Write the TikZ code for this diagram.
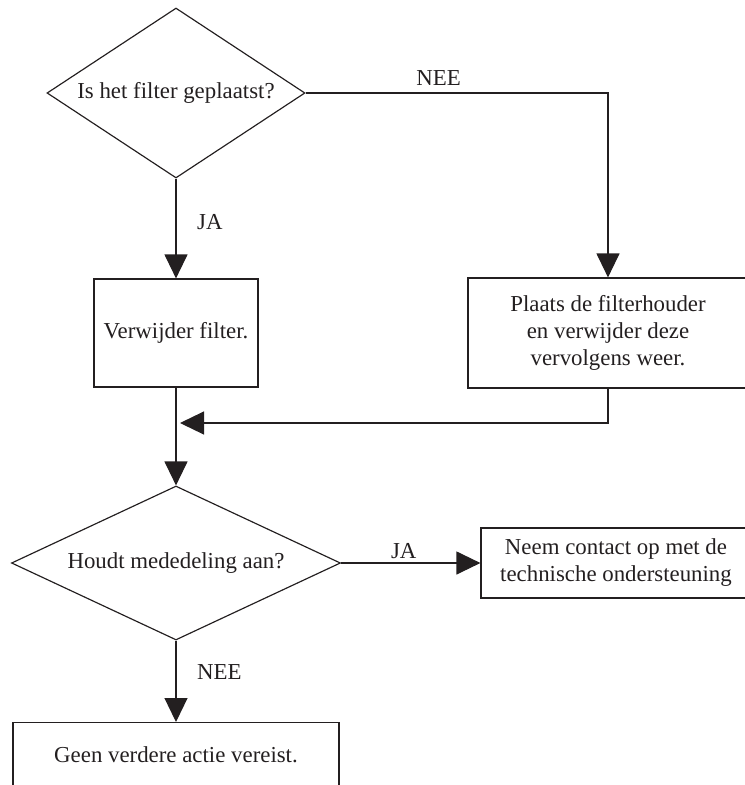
\documentclass[tikz,border=0pt]{standalone}
\usepackage{fontspec}
\setmainfont{Liberation Serif}
\usetikzlibrary{shapes.geometric,arrows.meta,positioning}
\definecolor{ink}{RGB}{35,31,32}

\begin{document}
\begin{tikzpicture}[
    % Style for the decision diamonds
    qNode/.style={
        diamond,
        draw=ink,
        line width=1pt,
        inner sep=0pt,
        text=ink,
        font=\fontsize{19.5}{23}\selectfont
    },
    % Style for the action boxes
    aNode/.style={
        rectangle,
        draw=ink,
        line width=1pt,
        align=center,
        text=ink,
        font=\fontsize{19.5}{23}\selectfont
    },
    % Style for the JA / NEE labels
    ansLabel/.style={
        text=ink,
        font=\fontsize{19.5}{23}\selectfont
    },
    % Style for the connectors
    flowLine/.style={
        draw=ink,
        line width=1pt
    },
    flowArrow/.style={
        flowLine,
        -{Triangle[length=7.2mm, width=6.9mm]}
    }
]

    % --- FRAME ---
    \useasboundingbox (0,0) rectangle (22.35,-23.55);
    \clip (0,0) rectangle (22.35,-23.55);

    % --- FIRST QUESTION ---
    \node[qNode, shape aspect=1.5, minimum width=7.74cm, minimum height=5.1cm] (Q1) at (5.28,-2.79) {Is het filter geplaatst?};

    % --- ACTIONS AFTER FIRST QUESTION ---
    \node[aNode, minimum width=4.92cm, minimum height=3.24cm] (Remove) at (5.28,-9.99) {Verwijder filter.};
    \node[aNode, minimum width=8.4cm, minimum height=3.3cm] (Place) at (18.24,-9.99) {Plaats de filterhouder\\en verwijder deze\\vervolgens weer.};
    \coordinate (Join) at (5.4,-12.69);

    % --- SECOND QUESTION ---
    \node[qNode, shape aspect=2.1, minimum width=9.87cm, minimum height=4.62cm] (Q2) at (5.28,-16.89) {Houdt mededeling aan?};

    % --- FINAL ACTIONS ---
    \node[aNode, minimum width=8.1cm, minimum height=2.1cm] (Support) at (18.48,-16.89) {Neem contact op met de\\technische ondersteuning};
    \node[aNode, minimum width=9.78cm, anchor=north, inner ysep=0.6cm, text height=0.6cm, text depth=1.6cm] (Done) at (5.28,-21.66) {Geen verdere actie vereist.};

    % --- CONNECTORS ---
    \draw[flowArrow] (Q1.south) -- node[ansLabel, right, xshift=0.5cm, pos=0.44] {JA} (Remove.north);
    \draw[flowArrow] (Q1.east) -| node[ansLabel, above, pos=0.22, yshift=0.1cm] {NEE} (Place.north);
    \draw[flowArrow] (Place.south) |- (Join);
    \draw[flowArrow] (Remove.south) -- (Q2.north);
    \draw[flowArrow] (Q2.east) -- node[ansLabel, above, pos=0.45] {JA} (Support.west);
    \draw[flowArrow] (Q2.south) -- node[ansLabel, right, xshift=0.5cm, pos=0.38] {NEE} (Done.north);

\end{tikzpicture}
\end{document}
